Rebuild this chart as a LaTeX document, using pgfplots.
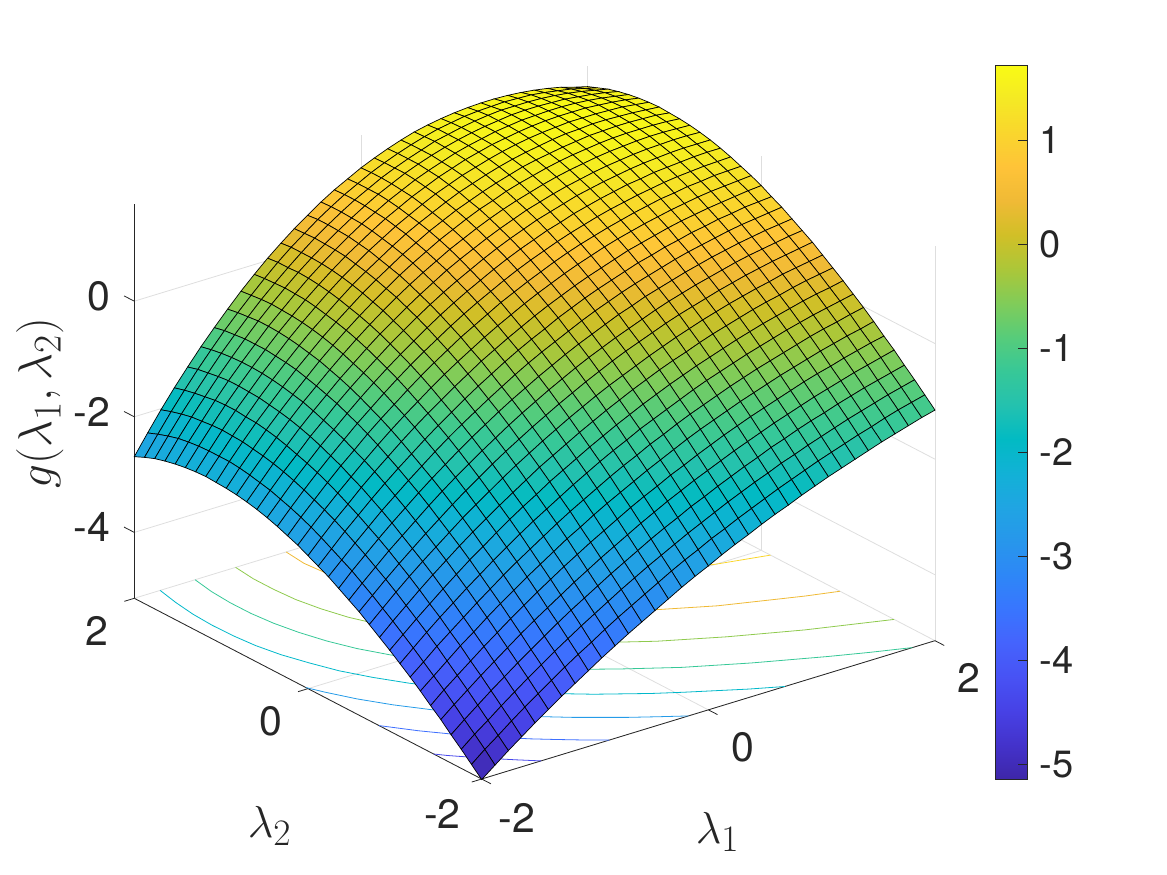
\documentclass[border=0pt]{standalone}
\usepackage{pgfplots}
\pgfplotsset{compat=1.18}
\usepackage{fontspec}
\setmainfont{TeX Gyre Heros}
\definecolor{tx}{rgb}{0.15,0.15,0.15}
\definecolor{gr}{rgb}{0.87,0.87,0.87}
\definecolor{c1}{rgb}{0.2803,0.2782,0.9221}
\definecolor{c2}{rgb}{0.2440,0.4358,0.9988}
\definecolor{c3}{rgb}{0.1460,0.6091,0.9079}
\definecolor{c4}{rgb}{0.0036,0.7203,0.7917}
\definecolor{c5}{rgb}{0.2161,0.7843,0.5923}
\definecolor{c6}{rgb}{0.5616,0.7942,0.3045}
\definecolor{c7}{rgb}{0.9393,0.7288,0.2100}
\definecolor{c8}{rgb}{0.9786,0.8386,0.1766}
\pgfplotsset{colormap={parula}{
rgb=(0.2422,0.1504,0.6603) rgb=(0.2647,0.1978,0.7952) rgb=(0.2783,0.2559,0.8991) rgb=(0.2810,0.3228,0.9579)
rgb=(0.2699,0.3892,0.9906) rgb=(0.2206,0.4603,0.9973) rgb=(0.1786,0.5289,0.9682) rgb=(0.1540,0.5902,0.9218)
rgb=(0.1248,0.6459,0.8883) rgb=(0.0689,0.6948,0.8394) rgb=(0.0067,0.7312,0.7660) rgb=(0.1408,0.7584,0.6842)
rgb=(0.2161,0.7843,0.5923) rgb=(0.3406,0.8008,0.4789) rgb=(0.5044,0.7993,0.3480) rgb=(0.6720,0.7793,0.2227)
rgb=(0.8203,0.7498,0.1535) rgb=(0.9393,0.7288,0.2100) rgb=(0.9970,0.7659,0.2199) rgb=(0.9786,0.8386,0.1766)
rgb=(0.9597,0.9135,0.1423) rgb=(0.9769,0.9839,0.0805)}}
\begin{document}
\begin{tikzpicture}
\begin{axis}[
 x={(13.333pt,4.068pt)}, y={(-10.218pt,5.315pt)}, z={(0pt,57.8pt)},
 xmin=0,xmax=34,ymin=0,ymax=34,zmin=-5.14,zmax=1.68,
 xtick={0,17,34},ytick={0,17,34},ztick={-4,-2,0},
 xticklabels={-2,0,2},yticklabels={-2,0,2},zticklabels={-4,-2,0},
 tick label style={font=\fontsize{41}{41}\selectfont,text=tx},
 xticklabel style={xshift=13pt,yshift=-13pt},
 yticklabel style={xshift=-13pt,yshift=-11pt},
 zticklabel style={xshift=-11pt,yshift=-2pt},
 grid=major,major grid style={gr,line width=0.8pt},
 axis line style={draw=none},
 tick align=outside,major tick length=11pt,tick style={draw=none},
 clip=false,colormap name=parula,
 point meta min=-5.14,point meta max=1.72,
]
\coordinate (F) at (axis cs:0,0,-5.14);
\addplot3[tx,line width=0.8pt] coordinates {(0,0,-5.14)(34,0,-5.14)};
\addplot3[tx,line width=0.8pt] coordinates {(0,0,-5.14)(0,34,-5.14)};
\addplot3[tx,line width=0.8pt] coordinates {(0,34,-5.14)(0,34,1.68)};
\addplot3[tx,line width=0.8pt] coordinates {(0,0,-5.14)(0,-.9,-5.14)};
\addplot3[tx,line width=0.8pt] coordinates {(17,0,-5.14)(17,-.9,-5.14)};
\addplot3[tx,line width=0.8pt] coordinates {(34,0,-5.14)(34,-.9,-5.14)};
\addplot3[tx,line width=0.8pt] coordinates {(0,0,-5.14)(-.75,0,-5.14)};
\addplot3[tx,line width=0.8pt] coordinates {(0,17,-5.14)(-.75,17,-5.14)};
\addplot3[tx,line width=0.8pt] coordinates {(0,34,-5.14)(-.75,34,-5.14)};
\addplot3[tx,line width=0.8pt] coordinates {(0,34,-4)(0,35,-4)};
\addplot3[tx,line width=0.8pt] coordinates {(0,34,-2)(0,35,-2)};
\addplot3[tx,line width=0.8pt] coordinates {(0,34,0)(0,35,0)};
\addplot3[c1,line width=0.8pt] coordinates {(0,4.7,-5.14)(.54,4,-5.14)(1.45,3,-5.14)(2.4,2,-5.14)(3.4,1,-5.14)(4.45,0,-5.14)};
\addplot3[c2,line width=0.8pt] coordinates {(0,10.05,-5.14)(1.4,8,-5.14)(3,6,-5.14)(4.93,4,-5.14)(5.95,3,-5.14)(7.1,2,-5.14)(8.29,1,-5.14)(9.56,0,-5.14)};
\addplot3[c3,line width=0.8pt] coordinates {(0,17.2,-5.14)(.47,16,-5.14)(1.39,14,-5.14)(2.55,12,-5.14)(3.95,10,-5.14)(5.64,8,-5.14)(7.6,6,-5.14)(9.92,4,-5.14)(12.54,2,-5.14)(14,1,-5.14)(15.5,0,-5.14)};
\addplot3[c4,line width=0.8pt] coordinates {(1.94,34,-5.14)(1.58,32,-5.14)(1.33,30,-5.14)(1.23,28,-5.14)(1.27,26,-5.14)(1.44,24,-5.14)(1.81,22,-5.14)(2.4,20,-5.14)(3.09,18,-5.14)(4.08,16,-5.14)(5.27,14,-5.14)(6.7,12,-5.14)(8.5,10,-5.14)(10.6,8,-5.14)(13,6,-5.14)(15.8,4,-5.14)(17.4,3,-5.14)(19.1,2,-5.14)(20.8,1,-5.14)(22.74,0,-5.14)};
\addplot3[c5,line width=0.8pt] coordinates {(4.56,34,-5.14)(4.26,32,-5.14)(4.13,30,-5.14)(4.14,28,-5.14)(4.32,26,-5.14)(4.68,24,-5.14)(5.21,22,-5.14)(5.95,20,-5.14)(6.97,18,-5.14)(8.22,16,-5.14)(9.78,14,-5.14)(11.53,12,-5.14)(13.86,10,-5.14)(16.6,8,-5.14)(19.6,6,-5.14)(23.3,4,-5.14)(27.5,2,-5.14)(29.8,1,-5.14)(32.3,0,-5.14)};
\addplot3[c6,line width=0.8pt] coordinates {(7.6,34,-5.14)(7.4,32,-5.14)(7.4,30,-5.14)(7.52,28,-5.14)(7.87,26,-5.14)(8.4,24,-5.14)(9.22,22,-5.14)(10.3,20,-5.14)(11.6,18,-5.14)(13.26,16,-5.14)(15.3,14,-5.14)(17.85,12,-5.14)(20.8,10,-5.14)(24.5,8,-5.14)(28.8,6,-5.14)(31.4,5,-5.14)(34,4,-5.14)};
\addplot3[c7,line width=0.8pt] coordinates {(11.39,34,-5.14)(11.2,32,-5.14)(11.36,30,-5.14)(11.68,28,-5.14)(12.24,26,-5.14)(13.09,24,-5.14)(14.2,22,-5.14)(15.7,20,-5.14)(17.65,18,-5.14)(20.06,16,-5.14)(23.2,14,-5.14)(26.9,12,-5.14)(31.9,10,-5.14)(34,9.3,-5.14)};
\addplot3[c8,line width=0.8pt] coordinates {(16.9,32,-5.14)(16.9,30,-5.14)(17.4,28,-5.14)(18.45,26,-5.14)(19.7,24,-5.14)(21.7,22,-5.14)(22.95,21,-5.14)(24.3,20,-5.14)(26.1,19,-5.14)(28.05,18,-5.14)(30.6,17,-5.14)(34,16.1,-5.14)};
\addplot3[surf,shader=faceted,faceted color=black,line width=0.7pt,mesh/cols=35,point meta=z] table {
0 0 -5.15
1 0 -4.97
2 0 -4.79
3 0 -4.62
4 0 -4.45
5 0 -4.29
6 0 -4.13
7 0 -3.98
8 0 -3.83
9 0 -3.68
10 0 -3.54
11 0 -3.40
12 0 -3.27
13 0 -3.14
14 0 -3.01
15 0 -2.88
16 0 -2.76
17 0 -2.65
18 0 -2.53
19 0 -2.42
20 0 -2.32
21 0 -2.21
22 0 -2.11
23 0 -2.02
24 0 -1.92
25 0 -1.83
26 0 -1.74
27 0 -1.66
28 0 -1.58
29 0 -1.50
30 0 -1.42
31 0 -1.35
32 0 -1.28
33 0 -1.21
34 0 -1.15
0 1 -4.98
1 1 -4.79
2 1 -4.62
3 1 -4.44
4 1 -4.27
5 1 -4.11
6 1 -3.95
7 1 -3.79
8 1 -3.64
9 1 -3.50
10 1 -3.35
11 1 -3.21
12 1 -3.08
13 1 -2.95
14 1 -2.82
15 1 -2.69
16 1 -2.57
17 1 -2.46
18 1 -2.34
19 1 -2.24
20 1 -2.13
21 1 -2.03
22 1 -1.93
23 1 -1.83
24 1 -1.74
25 1 -1.65
26 1 -1.56
27 1 -1.48
28 1 -1.40
29 1 -1.32
30 1 -1.25
31 1 -1.17
32 1 -1.10
33 1 -1.04
34 1 -0.98
0 2 -4.81
1 2 -4.62
2 2 -4.45
3 2 -4.27
4 2 -4.10
5 2 -3.93
6 2 -3.77
7 2 -3.61
8 2 -3.46
9 2 -3.31
10 2 -3.17
11 2 -3.03
12 2 -2.89
13 2 -2.76
14 2 -2.63
15 2 -2.51
16 2 -2.39
17 2 -2.27
18 2 -2.16
19 2 -2.05
20 2 -1.94
21 2 -1.84
22 2 -1.74
23 2 -1.65
24 2 -1.55
25 2 -1.47
26 2 -1.38
27 2 -1.30
28 2 -1.22
29 2 -1.14
30 2 -1.07
31 2 -1.00
32 2 -0.93
33 2 -0.87
34 2 -0.81
0 3 -4.65
1 3 -4.46
2 3 -4.28
3 3 -4.10
4 3 -3.93
5 3 -3.76
6 3 -3.60
7 3 -3.44
8 3 -3.28
9 3 -3.13
10 3 -2.99
11 3 -2.85
12 3 -2.71
13 3 -2.58
14 3 -2.45
15 3 -2.32
16 3 -2.20
17 3 -2.09
18 3 -1.97
19 3 -1.87
20 3 -1.76
21 3 -1.66
22 3 -1.56
23 3 -1.47
24 3 -1.37
25 3 -1.29
26 3 -1.20
27 3 -1.12
28 3 -1.05
29 3 -0.97
30 3 -0.90
31 3 -0.83
32 3 -0.77
33 3 -0.71
34 3 -0.65
0 4 -4.48
1 4 -4.29
2 4 -4.11
3 4 -3.93
4 4 -3.76
5 4 -3.59
6 4 -3.42
7 4 -3.26
8 4 -3.11
9 4 -2.96
10 4 -2.81
11 4 -2.67
12 4 -2.53
13 4 -2.40
14 4 -2.27
15 4 -2.14
16 4 -2.02
17 4 -1.90
18 4 -1.79
19 4 -1.68
20 4 -1.58
21 4 -1.48
22 4 -1.38
23 4 -1.29
24 4 -1.20
25 4 -1.11
26 4 -1.03
27 4 -0.95
28 4 -0.87
29 4 -0.80
30 4 -0.73
31 4 -0.66
32 4 -0.60
33 4 -0.54
34 4 -0.48
0 5 -4.33
1 5 -4.13
2 5 -3.95
3 5 -3.77
4 5 -3.59
5 5 -3.42
6 5 -3.25
7 5 -3.09
8 5 -2.93
9 5 -2.78
10 5 -2.63
11 5 -2.49
12 5 -2.35
13 5 -2.22
14 5 -2.09
15 5 -1.96
16 5 -1.84
17 5 -1.73
18 5 -1.61
19 5 -1.51
20 5 -1.40
21 5 -1.30
22 5 -1.20
23 5 -1.11
24 5 -1.02
25 5 -0.94
26 5 -0.86
27 5 -0.78
28 5 -0.70
29 5 -0.63
30 5 -0.57
31 5 -0.50
32 5 -0.44
33 5 -0.38
34 5 -0.33
0 6 -4.17
1 6 -3.98
2 6 -3.79
3 6 -3.60
4 6 -3.43
5 6 -3.25
6 6 -3.08
7 6 -2.92
8 6 -2.76
9 6 -2.61
10 6 -2.46
11 6 -2.31
12 6 -2.18
13 6 -2.04
14 6 -1.91
15 6 -1.79
16 6 -1.67
17 6 -1.55
18 6 -1.44
19 6 -1.33
20 6 -1.22
21 6 -1.12
22 6 -1.03
23 6 -0.94
24 6 -0.85
25 6 -0.77
26 6 -0.69
27 6 -0.61
28 6 -0.54
29 6 -0.47
30 6 -0.40
31 6 -0.34
32 6 -0.28
33 6 -0.23
34 6 -0.17
0 7 -4.02
1 7 -3.83
2 7 -3.63
3 7 -3.45
4 7 -3.27
5 7 -3.09
6 7 -2.92
7 7 -2.75
8 7 -2.59
9 7 -2.44
10 7 -2.29
11 7 -2.14
12 7 -2.00
13 7 -1.87
14 7 -1.74
15 7 -1.61
16 7 -1.49
17 7 -1.38
18 7 -1.26
19 7 -1.16
20 7 -1.05
21 7 -0.95
22 7 -0.86
23 7 -0.77
24 7 -0.68
25 7 -0.60
26 7 -0.52
27 7 -0.45
28 7 -0.38
29 7 -0.31
30 7 -0.24
31 7 -0.18
32 7 -0.13
33 7 -0.07
34 7 -0.02
0 8 -3.88
1 8 -3.68
2 8 -3.48
3 8 -3.29
4 8 -3.11
5 8 -2.93
6 8 -2.76
7 8 -2.59
8 8 -2.43
9 8 -2.27
10 8 -2.12
11 8 -1.98
12 8 -1.84
13 8 -1.70
14 8 -1.57
15 8 -1.44
16 8 -1.32
17 8 -1.21
18 8 -1.09
19 8 -0.99
20 8 -0.89
21 8 -0.79
22 8 -0.69
23 8 -0.60
24 8 -0.52
25 8 -0.44
26 8 -0.36
27 8 -0.29
28 8 -0.22
29 8 -0.15
30 8 -0.09
31 8 -0.03
32 8 0.02
33 8 0.07
34 8 0.12
0 9 -3.74
1 9 -3.54
2 9 -3.34
3 9 -3.15
4 9 -2.96
5 9 -2.78
6 9 -2.60
7 9 -2.44
8 9 -2.27
9 9 -2.11
10 9 -1.96
11 9 -1.82
12 9 -1.67
13 9 -1.54
14 9 -1.41
15 9 -1.28
16 9 -1.16
17 9 -1.04
18 9 -0.93
19 9 -0.82
20 9 -0.72
21 9 -0.62
22 9 -0.53
23 9 -0.44
24 9 -0.36
25 9 -0.28
26 9 -0.20
27 9 -0.13
28 9 -0.06
29 9 0.00
30 9 0.06
31 9 0.12
32 9 0.17
33 9 0.21
34 9 0.26
0 10 -3.61
1 10 -3.40
2 10 -3.20
3 10 -3.00
4 10 -2.81
5 10 -2.63
6 10 -2.45
7 10 -2.28
8 10 -2.12
9 10 -1.96
10 10 -1.81
11 10 -1.66
12 10 -1.51
13 10 -1.38
14 10 -1.25
15 10 -1.12
16 10 -1.00
17 10 -0.88
18 10 -0.77
19 10 -0.66
20 10 -0.56
21 10 -0.46
22 10 -0.37
23 10 -0.29
24 10 -0.20
25 10 -0.12
26 10 -0.05
27 10 0.02
28 10 0.09
29 10 0.15
30 10 0.20
31 10 0.26
32 10 0.31
33 10 0.35
34 10 0.39
0 11 -3.48
1 11 -3.27
2 11 -3.06
3 11 -2.86
4 11 -2.67
5 11 -2.49
6 11 -2.31
7 11 -2.13
8 11 -1.97
9 11 -1.81
10 11 -1.65
11 11 -1.50
12 11 -1.36
13 11 -1.22
14 11 -1.09
15 11 -0.96
16 11 -0.84
17 11 -0.72
18 11 -0.61
19 11 -0.51
20 11 -0.41
21 11 -0.31
22 11 -0.22
23 11 -0.13
24 11 -0.05
25 11 0.03
26 11 0.10
27 11 0.17
28 11 0.23
29 11 0.29
30 11 0.34
31 11 0.40
32 11 0.44
33 11 0.48
34 11 0.52
0 12 -3.35
1 12 -3.14
2 12 -2.93
3 12 -2.73
4 12 -2.54
5 12 -2.35
6 12 -2.17
7 12 -1.99
8 12 -1.82
9 12 -1.66
10 12 -1.50
11 12 -1.35
12 12 -1.21
13 12 -1.07
14 12 -0.94
15 12 -0.81
16 12 -0.69
17 12 -0.57
18 12 -0.46
19 12 -0.35
20 12 -0.25
21 12 -0.16
22 12 -0.07
23 12 0.02
24 12 0.10
25 12 0.17
26 12 0.24
27 12 0.31
28 12 0.37
29 12 0.43
30 12 0.48
31 12 0.53
32 12 0.57
33 12 0.61
34 12 0.65
0 13 -3.24
1 13 -3.02
2 13 -2.81
3 13 -2.60
4 13 -2.41
5 13 -2.22
6 13 -2.03
7 13 -1.85
8 13 -1.68
9 13 -1.52
10 13 -1.36
11 13 -1.21
12 13 -1.06
13 13 -0.92
14 13 -0.79
15 13 -0.66
16 13 -0.54
17 13 -0.42
18 13 -0.31
19 13 -0.21
20 13 -0.11
21 13 -0.02
22 13 0.07
23 13 0.16
24 13 0.24
25 13 0.31
26 13 0.38
27 13 0.44
28 13 0.50
29 13 0.56
30 13 0.61
31 13 0.65
32 13 0.69
33 13 0.73
34 13 0.76
0 14 -3.13
1 14 -2.90
2 14 -2.69
3 14 -2.48
4 14 -2.28
5 14 -2.09
6 14 -1.90
7 14 -1.72
8 14 -1.55
9 14 -1.38
10 14 -1.22
11 14 -1.07
12 14 -0.92
13 14 -0.78
14 14 -0.65
15 14 -0.52
16 14 -0.40
17 14 -0.28
18 14 -0.17
19 14 -0.07
20 14 0.03
21 14 0.13
22 14 0.21
23 14 0.30
24 14 0.37
25 14 0.44
26 14 0.51
27 14 0.57
28 14 0.63
29 14 0.68
30 14 0.73
31 14 0.77
32 14 0.81
33 14 0.84
34 14 0.87
0 15 -3.02
1 15 -2.80
2 15 -2.58
3 15 -2.37
4 15 -2.16
5 15 -1.97
6 15 -1.78
7 15 -1.60
8 15 -1.42
9 15 -1.25
10 15 -1.09
11 15 -0.94
12 15 -0.79
13 15 -0.65
14 15 -0.51
15 15 -0.38
16 15 -0.26
17 15 -0.15
18 15 -0.04
19 15 0.07
20 15 0.17
21 15 0.26
22 15 0.35
23 15 0.43
24 15 0.50
25 15 0.57
26 15 0.64
27 15 0.70
28 15 0.75
29 15 0.80
30 15 0.85
31 15 0.89
32 15 0.92
33 15 0.95
34 15 0.98
0 16 -2.93
1 16 -2.70
2 16 -2.47
3 16 -2.26
4 16 -2.05
5 16 -1.85
6 16 -1.66
7 16 -1.48
8 16 -1.30
9 16 -1.13
10 16 -0.97
11 16 -0.81
12 16 -0.66
13 16 -0.52
14 16 -0.38
15 16 -0.25
16 16 -0.13
17 16 -0.02
18 16 0.10
19 16 0.20
20 16 0.30
21 16 0.39
22 16 0.47
23 16 0.55
24 16 0.63
25 16 0.69
26 16 0.76
27 16 0.81
28 16 0.87
29 16 0.91
30 16 0.96
31 16 0.99
32 16 1.03
33 16 1.05
34 16 1.07
0 17 -2.84
1 17 -2.60
2 17 -2.37
3 17 -2.16
4 17 -1.94
5 17 -1.74
6 17 -1.55
7 17 -1.36
8 17 -1.18
9 17 -1.01
10 17 -0.85
11 17 -0.69
12 17 -0.54
13 17 -0.39
14 17 -0.26
15 17 -0.13
16 17 -0.01
17 17 0.11
18 17 0.22
19 17 0.32
20 17 0.42
21 17 0.51
22 17 0.59
23 17 0.67
24 17 0.75
25 17 0.81
26 17 0.87
27 17 0.93
28 17 0.98
29 17 1.02
30 17 1.06
31 17 1.09
32 17 1.12
33 17 1.15
34 17 1.17
0 18 -2.75
1 18 -2.51
2 18 -2.28
3 18 -2.06
4 18 -1.85
5 18 -1.64
6 18 -1.44
7 18 -1.25
8 18 -1.07
9 18 -0.90
10 18 -0.73
11 18 -0.57
12 18 -0.42
13 18 -0.28
14 18 -0.14
15 18 -0.01
16 18 0.11
17 18 0.23
18 18 0.34
19 18 0.44
20 18 0.54
21 18 0.63
22 18 0.71
23 18 0.79
24 18 0.86
25 18 0.92
26 18 0.98
27 18 1.03
28 18 1.08
29 18 1.12
30 18 1.16
31 18 1.19
32 18 1.21
33 18 1.23
34 18 1.25
0 19 -2.68
1 19 -2.43
2 19 -2.20
3 19 -1.97
4 19 -1.75
5 19 -1.55
6 19 -1.34
7 19 -1.15
8 19 -0.97
9 19 -0.79
10 19 -0.62
11 19 -0.46
12 19 -0.31
13 19 -0.16
14 19 -0.03
15 19 0.10
16 19 0.23
17 19 0.34
18 19 0.45
19 19 0.55
20 19 0.65
21 19 0.74
22 19 0.82
23 19 0.89
24 19 0.96
25 19 1.02
26 19 1.08
27 19 1.13
28 19 1.18
29 19 1.21
30 19 1.25
31 19 1.27
32 19 1.30
33 19 1.31
34 19 1.32
0 20 -2.61
1 20 -2.36
2 20 -2.12
3 20 -1.89
4 20 -1.67
5 20 -1.46
6 20 -1.25
7 20 -1.06
8 20 -0.87
9 20 -0.69
10 20 -0.52
11 20 -0.36
12 20 -0.21
13 20 -0.06
14 20 0.08
15 20 0.21
16 20 0.33
17 20 0.45
18 20 0.56
19 20 0.66
20 20 0.75
21 20 0.84
22 20 0.92
23 20 0.99
24 20 1.06
25 20 1.12
26 20 1.17
27 20 1.22
28 20 1.26
29 20 1.30
30 20 1.33
31 20 1.35
32 20 1.37
33 20 1.38
34 20 1.39
0 21 -2.55
1 21 -2.30
2 21 -2.05
3 21 -1.82
4 21 -1.59
5 21 -1.38
6 21 -1.17
7 21 -0.97
8 21 -0.78
9 21 -0.60
10 21 -0.43
11 21 -0.27
12 21 -0.11
13 21 0.04
14 21 0.18
15 21 0.31
16 21 0.43
17 21 0.55
18 21 0.66
19 21 0.76
20 21 0.85
21 21 0.94
22 21 1.01
23 21 1.09
24 21 1.15
25 21 1.21
26 21 1.26
27 21 1.31
28 21 1.34
29 21 1.38
30 21 1.40
31 21 1.42
32 21 1.44
33 21 1.45
34 21 1.45
0 22 -2.50
1 22 -2.24
2 22 -1.99
3 22 -1.76
4 22 -1.52
5 22 -1.31
6 22 -1.09
7 22 -0.89
8 22 -0.70
9 22 -0.52
10 22 -0.34
11 22 -0.18
12 22 -0.02
13 22 0.13
14 22 0.27
15 22 0.40
16 22 0.52
17 22 0.64
18 22 0.75
19 22 0.85
20 22 0.94
21 22 1.03
22 22 1.10
23 22 1.17
24 22 1.24
25 22 1.29
26 22 1.34
27 22 1.38
28 22 1.42
29 22 1.45
30 22 1.47
31 22 1.49
32 22 1.50
33 22 1.50
34 22 1.50
0 23 -2.46
1 23 -2.20
2 23 -1.94
3 23 -1.70
4 23 -1.46
5 23 -1.24
6 23 -1.03
7 23 -0.82
8 23 -0.63
9 23 -0.44
10 23 -0.26
11 23 -0.10
12 23 0.06
13 23 0.21
14 23 0.35
15 23 0.49
16 23 0.61
17 23 0.72
18 23 0.83
19 23 0.93
20 23 1.02
21 23 1.11
22 23 1.18
23 23 1.25
24 23 1.31
25 23 1.36
26 23 1.41
27 23 1.45
28 23 1.48
29 23 1.51
30 23 1.53
31 23 1.54
32 23 1.55
33 23 1.55
34 23 1.54
0 24 -2.43
1 24 -2.16
2 24 -1.90
3 24 -1.65
4 24 -1.41
5 24 -1.18
6 24 -0.97
7 24 -0.76
8 24 -0.56
9 24 -0.37
10 24 -0.19
11 24 -0.02
12 24 0.14
13 24 0.29
14 24 0.43
15 24 0.56
16 24 0.69
17 24 0.80
18 24 0.91
19 24 1.01
20 24 1.10
21 24 1.18
22 24 1.25
23 24 1.32
24 24 1.38
25 24 1.43
26 24 1.47
27 24 1.51
28 24 1.54
29 24 1.56
30 24 1.58
31 24 1.59
32 24 1.59
33 24 1.58
34 24 1.57
0 25 -2.41
1 25 -2.13
2 25 -1.87
3 25 -1.61
4 25 -1.37
5 25 -1.14
6 25 -0.92
7 25 -0.70
8 25 -0.50
9 25 -0.31
10 25 -0.13
11 25 0.04
12 25 0.20
13 25 0.36
14 25 0.50
15 25 0.63
16 25 0.76
17 25 0.87
18 25 0.98
19 25 1.08
20 25 1.16
21 25 1.25
22 25 1.32
23 25 1.38
24 25 1.44
25 25 1.49
26 25 1.53
27 25 1.56
28 25 1.59
29 25 1.61
30 25 1.62
31 25 1.62
32 25 1.62
33 25 1.61
34 25 1.59
0 26 -2.40
1 26 -2.11
2 26 -1.84
3 26 -1.58
4 26 -1.34
5 26 -1.10
6 26 -0.87
7 26 -0.66
8 26 -0.45
9 26 -0.26
10 26 -0.08
11 26 0.10
12 26 0.26
13 26 0.41
14 26 0.56
15 26 0.69
16 26 0.82
17 26 0.93
18 26 1.04
19 26 1.13
20 26 1.22
21 26 1.30
22 26 1.37
23 26 1.44
24 26 1.49
25 26 1.53
26 26 1.57
27 26 1.60
28 26 1.63
29 26 1.64
30 26 1.65
31 26 1.65
32 26 1.64
33 26 1.63
34 26 1.60
0 27 -2.39
1 27 -2.11
2 27 -1.83
3 27 -1.57
4 27 -1.31
5 27 -1.07
6 27 -0.84
7 27 -0.62
8 27 -0.41
9 27 -0.22
10 27 -0.03
11 27 0.15
12 27 0.31
13 27 0.46
14 27 0.61
15 27 0.75
16 27 0.87
17 27 0.98
18 27 1.09
19 27 1.19
20 27 1.27
21 27 1.35
22 27 1.42
23 27 1.48
24 27 1.53
25 27 1.57
26 27 1.61
27 27 1.64
28 27 1.65
29 27 1.67
30 27 1.67
31 27 1.66
32 27 1.65
33 27 1.63
34 27 1.61
0 28 -2.40
1 28 -2.11
2 28 -1.82
3 28 -1.55
4 28 -1.30
5 28 -1.05
6 28 -0.82
7 28 -0.59
8 28 -0.38
9 28 -0.18
10 28 0.01
11 28 0.19
12 28 0.35
13 28 0.51
14 28 0.65
15 28 0.79
16 28 0.91
17 28 1.03
18 28 1.14
19 28 1.23
20 28 1.32
21 28 1.39
22 28 1.46
23 28 1.52
24 28 1.57
25 28 1.61
26 28 1.64
27 28 1.66
28 28 1.68
29 28 1.68
30 28 1.68
31 28 1.67
32 28 1.66
33 28 1.63
34 28 1.60
0 29 -2.42
1 29 -2.12
2 29 -1.83
3 29 -1.55
4 29 -1.29
5 29 -1.04
6 29 -0.80
7 29 -0.57
8 29 -0.36
9 29 -0.15
10 29 0.04
11 29 0.22
12 29 0.39
13 29 0.54
14 29 0.69
15 29 0.83
16 29 0.95
17 29 1.07
18 29 1.17
19 29 1.27
20 29 1.35
21 29 1.43
22 29 1.49
23 29 1.55
24 29 1.59
25 29 1.63
26 29 1.66
27 29 1.68
28 29 1.69
29 29 1.69
30 29 1.69
31 29 1.67
32 29 1.65
33 29 1.62
34 29 1.58
0 30 -2.45
1 30 -2.14
2 30 -1.85
3 30 -1.56
4 30 -1.29
5 30 -1.04
6 30 -0.80
7 30 -0.56
8 30 -0.35
9 30 -0.14
10 30 0.06
11 30 0.24
12 30 0.41
13 30 0.57
14 30 0.72
15 30 0.85
16 30 0.98
17 30 1.09
18 30 1.20
19 30 1.29
20 30 1.37
21 30 1.45
22 30 1.51
23 30 1.56
24 30 1.61
25 30 1.64
26 30 1.67
27 30 1.68
28 30 1.69
29 30 1.69
30 30 1.68
31 30 1.66
32 30 1.63
33 30 1.59
34 30 1.55
0 31 -2.49
1 31 -2.17
2 31 -1.87
3 31 -1.59
4 31 -1.31
5 31 -1.05
6 31 -0.80
7 31 -0.56
8 31 -0.34
9 31 -0.13
10 31 0.07
11 31 0.25
12 31 0.42
13 31 0.58
14 31 0.73
15 31 0.87
16 31 1.00
17 31 1.11
18 31 1.22
19 31 1.31
20 31 1.39
21 31 1.46
22 31 1.52
23 31 1.57
24 31 1.61
25 31 1.64
26 31 1.67
27 31 1.68
28 31 1.68
29 31 1.67
30 31 1.66
31 31 1.63
32 31 1.60
33 31 1.56
34 31 1.51
0 32 -2.54
1 32 -2.22
2 32 -1.91
3 32 -1.62
4 32 -1.34
5 32 -1.07
6 32 -0.82
7 32 -0.58
8 32 -0.35
9 32 -0.14
10 32 0.06
11 32 0.25
12 32 0.43
13 32 0.59
14 32 0.74
15 32 0.88
16 32 1.00
17 32 1.12
18 32 1.22
19 32 1.31
20 32 1.39
21 32 1.47
22 32 1.52
23 32 1.57
24 32 1.61
25 32 1.64
26 32 1.66
27 32 1.66
28 32 1.66
29 32 1.65
30 32 1.63
31 32 1.60
32 32 1.56
33 32 1.51
34 32 1.46
0 33 -2.61
1 33 -2.28
2 33 -1.96
3 33 -1.66
4 33 -1.37
5 33 -1.10
6 33 -0.84
7 33 -0.60
8 33 -0.37
9 33 -0.15
10 33 0.06
11 33 0.25
12 33 0.42
13 33 0.59
14 33 0.74
15 33 0.88
16 33 1.00
17 33 1.12
18 33 1.22
19 33 1.31
20 33 1.39
21 33 1.46
22 33 1.52
23 33 1.56
24 33 1.60
25 33 1.62
26 33 1.63
27 33 1.64
28 33 1.63
29 33 1.62
30 33 1.59
31 33 1.55
32 33 1.51
33 33 1.45
34 33 1.39
0 34 -2.69
1 34 -2.35
2 34 -2.02
3 34 -1.71
4 34 -1.42
5 34 -1.14
6 34 -0.88
7 34 -0.63
8 34 -0.39
9 34 -0.17
10 34 0.04
11 34 0.23
12 34 0.41
13 34 0.57
14 34 0.73
15 34 0.87
16 34 0.99
17 34 1.11
18 34 1.21
19 34 1.30
20 34 1.38
21 34 1.45
22 34 1.50
23 34 1.54
24 34 1.57
25 34 1.59
26 34 1.60
27 34 1.60
28 34 1.59
29 34 1.57
30 34 1.54
31 34 1.50
32 34 1.45
33 34 1.38
34 34 1.32
};
\end{axis}
\begin{scope}[shift={(F)}]
\begin{axis}[at={(513.3pt,-0.3pt)},anchor=south west,scale only axis,width=32pt,height=714pt,
 xmin=0,xmax=1,ymin=-5.144,ymax=1.72,xtick=\empty,
 ytick={-5,-4,-3,-2,-1,0,1},yticklabels={-5,-4,-3,-2,-1,0,1},
 ytick pos=right,yticklabel pos=right,tick align=inside,major tick length=9pt,
 tick style={tx,line width=0.8pt},axis line style={tx,line width=0.8pt},axis on top,
 tick label style={font=\fontsize{38}{38}\selectfont,text=tx},
 yticklabel style={xshift=9pt},
 colormap name=parula,point meta min=-5.144,point meta max=1.72]
\addplot[surf,shader=interp,mesh/cols=2,point meta=y] table {
0 -5.144
1 -5.144
0 1.72
1 1.72
};
\end{axis}
\node[font=\fontsize{24.88}{25}\selectfont,text=tx,scale=1.8] at (236pt,-53pt) {$\lambda_1$};
\node[font=\fontsize{24.88}{25}\selectfont,text=tx,scale=1.8] at (-212pt,-47pt) {$\lambda_2$};
\node[font=\fontsize{24.88}{25}\selectfont,text=tx,rotate=90,scale=1.9] at (-442pt,376pt) {$g(\lambda_1,\lambda_2)$};
\pgfresetboundingbox
\path[use as bounding box] (-481.7pt,-96pt) rectangle (685.3pt,779pt);
\end{scope}
\end{tikzpicture}
\end{document}
